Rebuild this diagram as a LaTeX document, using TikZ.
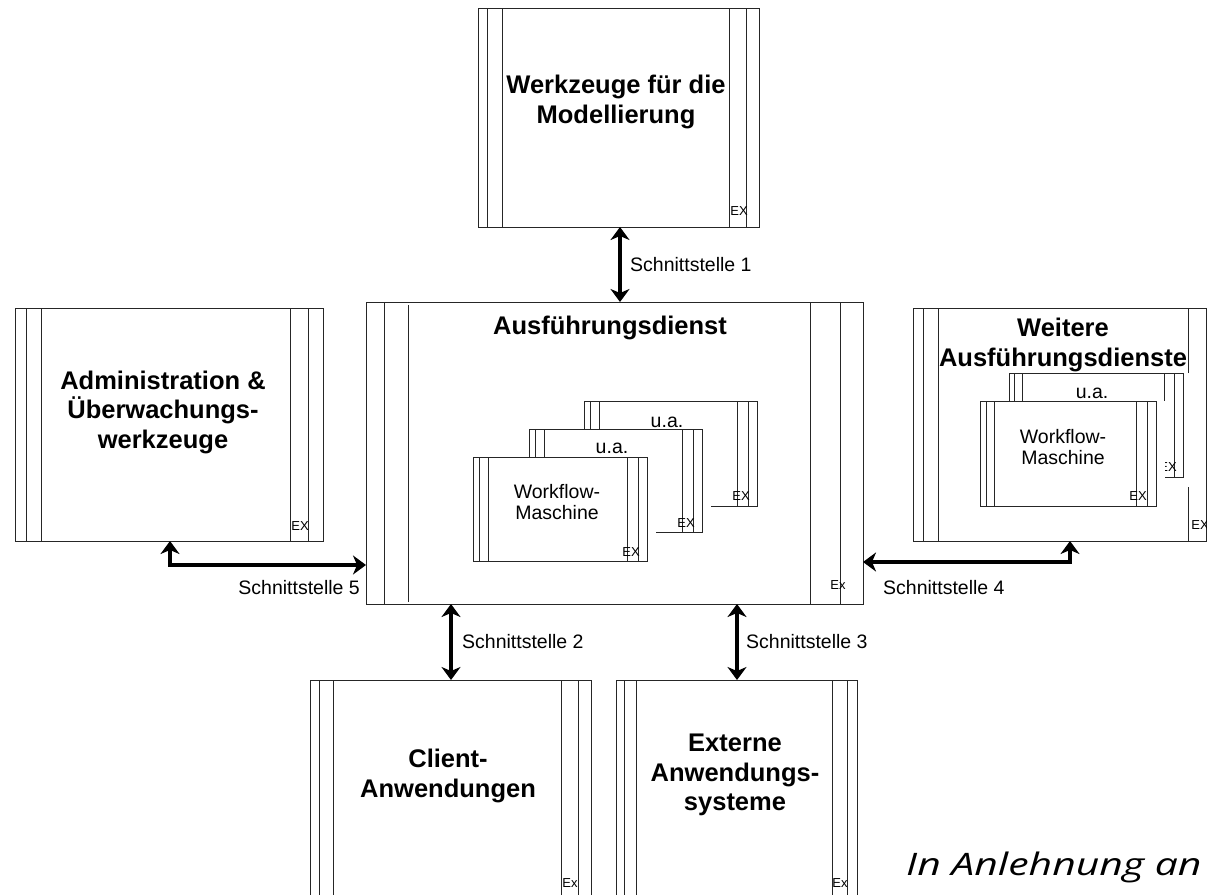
\documentclass[tikz,border=0pt]{standalone}
\usepackage{fontspec}
\setmainfont{Liberation Sans}
\newfontfamily\capfont{Open Sans}
\usetikzlibrary{arrows.meta,calc}
\newcommand\frlines[5]{%
  \foreach \o in {#2,#3} {\draw[fl] ($(#1.north west)+(\o,0)$) -- ($(#1.south west)+(\o,0)$);}%
  \foreach \o in {#4,#5} {\draw[fl] ($(#1.north east)-(\o,0)$) -- ($(#1.south east)-(\o,0)$);}%
}
\begin{document}
\begin{tikzpicture}[x=1pt,y=-1pt,
  frame/.style={draw=black!85, line width=0.9pt, inner sep=0pt, outer sep=0pt, anchor=north west, fill=white},
  fl/.style={draw=black!85, line width=0.9pt},
  halo/.style={fill=white},
  title/.style={font=\fontsize{25.5}{29.5}\selectfont\bfseries, align=center, inner sep=0pt},
  small/.style={font=\fontsize{19.5}{21.5}\selectfont, align=center, inner sep=0pt},
  exlbl/.style={font=\fontsize{13}{13}\selectfont, inner sep=0pt},
  biarrow/.style={line width=4pt, {Stealth[length=13pt,width=19pt,inset=4pt]}-{Stealth[length=13pt,width=19pt,inset=4pt]}},
  ]
\useasboundingbox (0,0) rectangle (1207,894);
\clip (0,0) rectangle (1207,894);

% top box
\node[frame, minimum width=281pt, minimum height=219pt] (werk) at (478,8) {};
\frlines{werk}{9}{24}{30}{13}
\node[title] (werkt) at (616,102) {Werkzeuge für die\\Modellierung};
\node[exlbl] (werkx) at (739,211) {EX};

% left box
\node[frame, minimum width=308pt, minimum height=233pt] (adm) at (15,308) {};
\frlines{adm}{11}{26}{33}{15}
\node[title] (admt) at (163,412) {Administration \&\\Überwachungs-\\werkzeuge};
\node[exlbl] (admx) at (300,526) {EX};

% center box
\node[frame, minimum width=497pt, minimum height=302pt] (exec) at (366,302) {};
\frlines{exec}{18}{18}{53}{23}
\draw[fl] ($(exec.north west)+(42,3)$) -- ($(exec.south west)+(42,-2)$);
\node[title] (exect) at (610,328) {Ausführungsdienst};
\node[exlbl] (execx) at (838,585) {Ex};

% inner workflow machines (center)
\fill[halo] (584,401) rectangle (766,516);
\node[frame, minimum width=173pt, minimum height=105pt] (wm3) at (584,401) {};
\frlines{wm3}{6}{15}{20}{9}
\node[small] (wm3t) at (667,422) {u.a.};
\node[exlbl] (wm3x) at (741,496) {EX};
\fill[halo] (529,429) rectangle (711,542);
\node[frame, minimum width=173pt, minimum height=103pt] (wm2) at (529,429) {};
\frlines{wm2}{6}{15}{20}{9}
\node[small] (wm2t) at (612,448) {u.a.};
\node[exlbl] (wm2x) at (686,523) {EX};
\fill[halo] (473,457) rectangle (656,571);
\node[frame, minimum width=174pt, minimum height=104pt] (wm1) at (473,457) {};
\frlines{wm1}{6}{15}{20}{9}
\node[small] (wm1t) at (557,502) {Workflow-\\Maschine};
\node[exlbl] (wm1x) at (631,552) {EX};

% right box
\node[frame, minimum width=308pt, minimum height=233pt] (wei) at (913,308) {};
\frlines{wei}{10}{25}{33}{15}
\node[exlbl] (weix) at (1200,525) {EX};
\fill[halo] (1009,373) rectangle (1192,487);
\node[frame, minimum width=174pt, minimum height=104pt] (wr2) at (1009,373) {};
\frlines{wr2}{5}{13}{19}{9}
\node[small] (wr2t) at (1092,393) {u.a.};
\node[exlbl] (wr2x) at (1168,467) {EX};
\fill[halo] (980,401) rectangle (1165,516);
\node[frame, minimum width=176pt, minimum height=105pt] (wr1) at (980,401) {};
\frlines{wr1}{6}{14}{20}{9}
\node[small] (wr1t) at (1063,447) {Workflow-\\Maschine};
\node[exlbl] (wr1x) at (1138,496) {EX};
\node[title] (weit) at (1063,345) {Weitere\\Ausführungsdienste};

% bottom boxes
\node[frame, minimum width=281pt, minimum height=280pt] (cli) at (310,680) {};
\frlines{cli}{9}{23}{30}{13}
\node[title] (clit) at (448,776) {Client-\\Anwendungen};
\node[exlbl] (clix) at (570,883) {Ex};
\node[frame, minimum width=241pt, minimum height=280pt] (ext) at (616,680) {};
\frlines{ext}{8}{20}{25}{10}
\node[title] (extt) at (735,775) {Externe\\Anwendungs-\\systeme};
\node[exlbl] (extx) at (840,883) {Ex};

% interfaces
\coordinate (p1) at (620,265);
\draw[biarrow] (werk.south -| p1) -- (exec.north -| p1);
\node[small, anchor=west] (s1) at (630,265) {Schnittstelle 1};
\coordinate (p2) at (451,642);
\draw[biarrow] (exec.south -| p2) -- (cli.north -| p2);
\node[small, anchor=west] (s2) at (462,642) {Schnittstelle 2};
\coordinate (p3) at (737,642);
\draw[biarrow] (exec.south -| p3) -- (ext.north -| p3);
\node[small, anchor=west] (s3) at (746,642) {Schnittstelle 3};
\coordinate (c5) at (170,565);
\draw[biarrow] (adm.south -| c5) -- (c5) -- (c5 -| exec.west);
\node[small, anchor=east] (s5) at (360,588) {Schnittstelle 5};
\coordinate (c4) at (1070,562);
\draw[biarrow] (c4 -| exec.east) -- (c4) -- (wei.south -| c4);
\node[small, anchor=west] (s4) at (883,588) {Schnittstelle 4};

% caption
\node[anchor=base west, inner sep=0pt, font=\capfont\itshape\fontsize{31}{31}\selectfont] (cap) at (906,875) {\scalebox{1.32}[1]{In Anlehnung an}};
\end{tikzpicture}
\end{document}
